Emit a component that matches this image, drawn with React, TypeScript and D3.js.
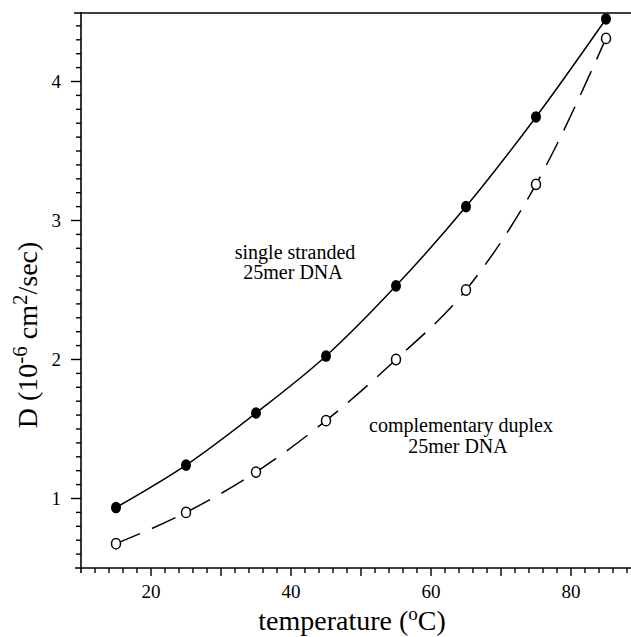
import React from "react";
import * as d3 from "d3";

const temps = [15, 25, 35, 45, 55, 65, 75, 85];
const singleStranded = [0.935, 1.24, 1.615, 2.025, 2.53, 3.1, 3.745, 4.45];
const duplex = [0.675, 0.9, 1.19, 1.56, 2.0, 2.5, 3.26, 4.31];
const xTickLabels = [20, 40, 60, 80];
const yTickLabels = [1, 2, 3, 4];

const W = 631;
const H = 637;
const left = 81;
const top = 13;
const bottom = 568;

const FONT = "'Liberation Serif', 'Times New Roman', serif";

export default function App() {
  const x = d3.scaleLinear().domain([10, 90]).range([left, left + 560]);
  const y = d3.scaleLinear().domain([0.5, 4.5]).range([bottom, 12]);

  const solid = d3
    .line<number>()
    .x((_, i) => x(temps[i]))
    .y((d) => y(d))
    .curve(d3.curveMonotoneX)(singleStranded) as string;
  const dashed = d3
    .line<number>()
    .x((_, i) => x(temps[i]))
    .y((d) => y(d))
    .curve(d3.curveMonotoneX)(duplex) as string;

  const yMinor = d3.range(6, 45).map((v) => v / 10);
  const xMinor = d3.range(12, 90, 2);

  return (
    <svg
      width={W}
      height={H}
      style={{ position: "absolute", left: 0, top: 0, background: "#fff" }}
      fontFamily={FONT}
    >
      <rect x={0} y={0} width={W} height={H} fill="#fff" />
      {/* frame lines */}
      <line x1={74} x2={W} y1={top} y2={top} stroke="#000" strokeWidth={1.6} />
      <line x1={left} x2={left} y1={12} y2={573} stroke="#000" strokeWidth={1.6} />
      <line x1={75} x2={W} y1={bottom} y2={bottom} stroke="#000" strokeWidth={1.6} />

      {/* y ticks */}
      {yMinor.map((v) => {
        const major = Math.abs(v - Math.round(v)) < 1e-6;
        return (
          <line
            key={"yt" + v}
            x1={left - (major ? 10 : 5)}
            x2={left}
            y1={y(v)}
            y2={y(v)}
            stroke="#000"
            strokeWidth={1.4}
          />
        );
      })}
      {yTickLabels.map((v) => (
        <text
          key={"yl" + v}
          x={left - 20}
          y={y(v)}
          dy="0.34em"
          textAnchor="end"
          fontSize={19}
        >
          {v}
        </text>
      ))}

      {/* x ticks */}
      {xMinor.map((v) => {
        const major = v % 10 === 0;
        return (
          <line
            key={"xt" + v}
            x1={x(v)}
            x2={x(v)}
            y1={bottom}
            y2={bottom + (major ? 8 : 5)}
            stroke="#000"
            strokeWidth={1.4}
          />
        );
      })}
      {xTickLabels.map((v) => (
        <text key={"xl" + v} x={x(v)} y={598} textAnchor="middle" fontSize={19}>
          {v}
        </text>
      ))}

      {/* axis titles */}
      <text x={352} y={630} textAnchor="middle" fontSize={28}>
        temperature (
        <tspan fontSize={19} dy={-10}>
          o
        </tspan>
        <tspan dy={10}>C)</tspan>
      </text>
      <text
        transform={`translate(37, 335) rotate(-90)`}
        textAnchor="middle"
        fontSize={28}
      >
        D (10
        <tspan fontSize={21} dy={-10}>
          -6
        </tspan>
        <tspan dy={10}> cm</tspan>
        <tspan fontSize={21} dy={-10}>
          2
        </tspan>
        <tspan dy={10}>/sec)</tspan>
      </text>

      {/* lines */}
      <path d={solid} fill="none" stroke="#000" strokeWidth={1.5} />
      <path d={dashed} fill="none" stroke="#000" strokeWidth={1.5} strokeDasharray="26,13" />

      {/* markers */}
      {duplex.map((v, i) => (
        <ellipse
          key={"o" + i}
          cx={x(temps[i])}
          cy={y(v)}
          rx={4.5}
          ry={5.2}
          fill="#fff"
          stroke="#000"
          strokeWidth={1.5}
        />
      ))}
      {singleStranded.map((v, i) => (
        <ellipse key={"f" + i} cx={x(temps[i])} cy={y(v)} rx={5} ry={5.8} fill="#000" />
      ))}

      {/* annotations */}
      <text x={295} y={259} textAnchor="middle" fontSize={20}>
        single stranded
      </text>
      <text x={293} y={279} textAnchor="middle" fontSize={20}>
        25mer DNA
      </text>
      <text x={461} y={432} textAnchor="middle" fontSize={20}>
        complementary duplex
      </text>
      <text x={458} y={453} textAnchor="middle" fontSize={20}>
        25mer DNA
      </text>
    </svg>
  );
}
